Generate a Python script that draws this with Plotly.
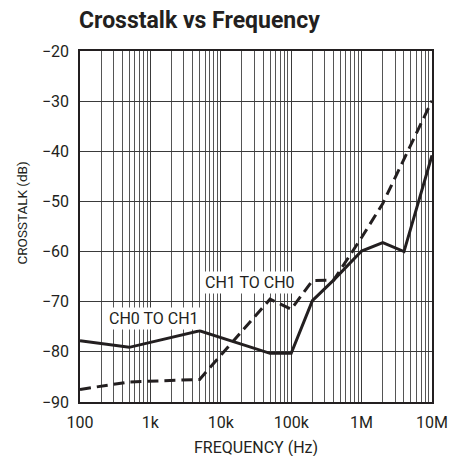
import plotly.graph_objects as go

# Data
freq_ch0 = [100, 500, 5e3, 5e4, 1e5, 2e5, 4e5, 1e6, 2e6, 4e6, 1e7]
xtalk_ch0 = [-77.8, -79.1, -75.8, -80.3, -80.3, -69.8, -65.7, -59.9, -58.2, -60.0, -40.8]

freq_ch1 = [100, 500, 5e3, 5e4, 1e5, 2e5, 4e5, 1e6, 2e6, 1e7]
xtalk_ch1 = [-87.5, -86.0, -85.5, -69.5, -71.5, -65.8, -65.7, -57.2, -50.4, -29.9]

x_tickvals = [1e2, 1e3, 1e4, 1e5, 1e6, 1e7]
x_ticktext = ["100", "1k", "10k", "100k", "1M", "10M"]
y_tickvals = [-20, -30, -40, -50, -60, -70, -80, -90]
y_ticktext = ["\u221220", "\u221230", "\u221240", "\u221250", "\u221260", "\u221270", "\u221280", "\u221290"]

FONT = "Roboto, Liberation Sans, sans-serif"
INK = "#231f20"

fig = go.Figure()
fig.add_trace(go.Scatter(x=freq_ch0, y=xtalk_ch0, mode="lines",
                         line=dict(color=INK, width=3), name="CH0 TO CH1"))
fig.add_trace(go.Scatter(x=freq_ch1, y=xtalk_ch1, mode="lines",
                         line=dict(color=INK, width=3, dash="11px,6px"), name="CH1 TO CH0"))

# curve labels (x in log10 units for log axis annotations)
fig.add_annotation(x=3.044, y=-73.4, xref="x", yref="y", text="CH0 TO CH1",
                   showarrow=False, bgcolor="white", borderpad=1,
                   font=dict(family=FONT, size=16, color=INK))
fig.add_annotation(x=4.415, y=-66.2, xref="x", yref="y", text="CH1 TO CH0",
                   showarrow=False, bgcolor="white", borderpad=1,
                   font=dict(family=FONT, size=16, color=INK))

# title
fig.add_annotation(x=-0.008, y=1.0, xref="paper", yref="paper", xanchor="left", yanchor="bottom",
                   yshift=15, text="<b>Crosstalk vs Frequency</b>", showarrow=False,
                   font=dict(family=FONT, size=23, color=INK))
# axis titles
fig.add_annotation(x=0.5, y=0, xref="paper", yref="paper", xanchor="center", yanchor="middle",
                   yshift=-45, text="FREQUENCY (Hz)", showarrow=False,
                   font=dict(family=FONT, size=16, color=INK))
fig.add_annotation(x=0, y=0.537, xref="paper", yref="paper", xanchor="center", yanchor="middle",
                   xshift=-58, text="CROSSTALK (dB)", showarrow=False, textangle=-90,
                   font=dict(family=FONT, size=13.5, color=INK))

fig.update_xaxes(type="log", range=[2, 7], tickvals=x_tickvals, ticktext=x_ticktext,
                 showgrid=True, gridcolor="#3a3a3a", gridwidth=1,
                 minor=dict(showgrid=True, dtick="D1", gridcolor="#555", gridwidth=1, ticks=""),
                 showline=True, linecolor=INK, linewidth=1.5, mirror=True,
                 ticks="", zeroline=False, automargin=False, ticklabelstandoff=5,
                 tickfont=dict(family=FONT, size=16, color=INK))
fig.update_yaxes(range=[-90, -20], tickvals=y_tickvals, ticktext=y_ticktext,
                 showgrid=True, gridcolor="#3a3a3a", gridwidth=1,
                 showline=True, linecolor=INK, linewidth=1.5, mirror=True,
                 ticks="", zeroline=False, automargin=False, ticklabelstandoff=6,
                 tickfont=dict(family=FONT, size=16, color=INK))

fig.update_layout(width=461, height=456, margin=dict(l=80, r=29, t=51, b=54),
                  plot_bgcolor="white", paper_bgcolor="white", showlegend=False)

fig.write_html("out.html", config={"displayModeBar": False},
               post_script="document.body.style.margin='0';document.body.style.overflow='hidden';")
